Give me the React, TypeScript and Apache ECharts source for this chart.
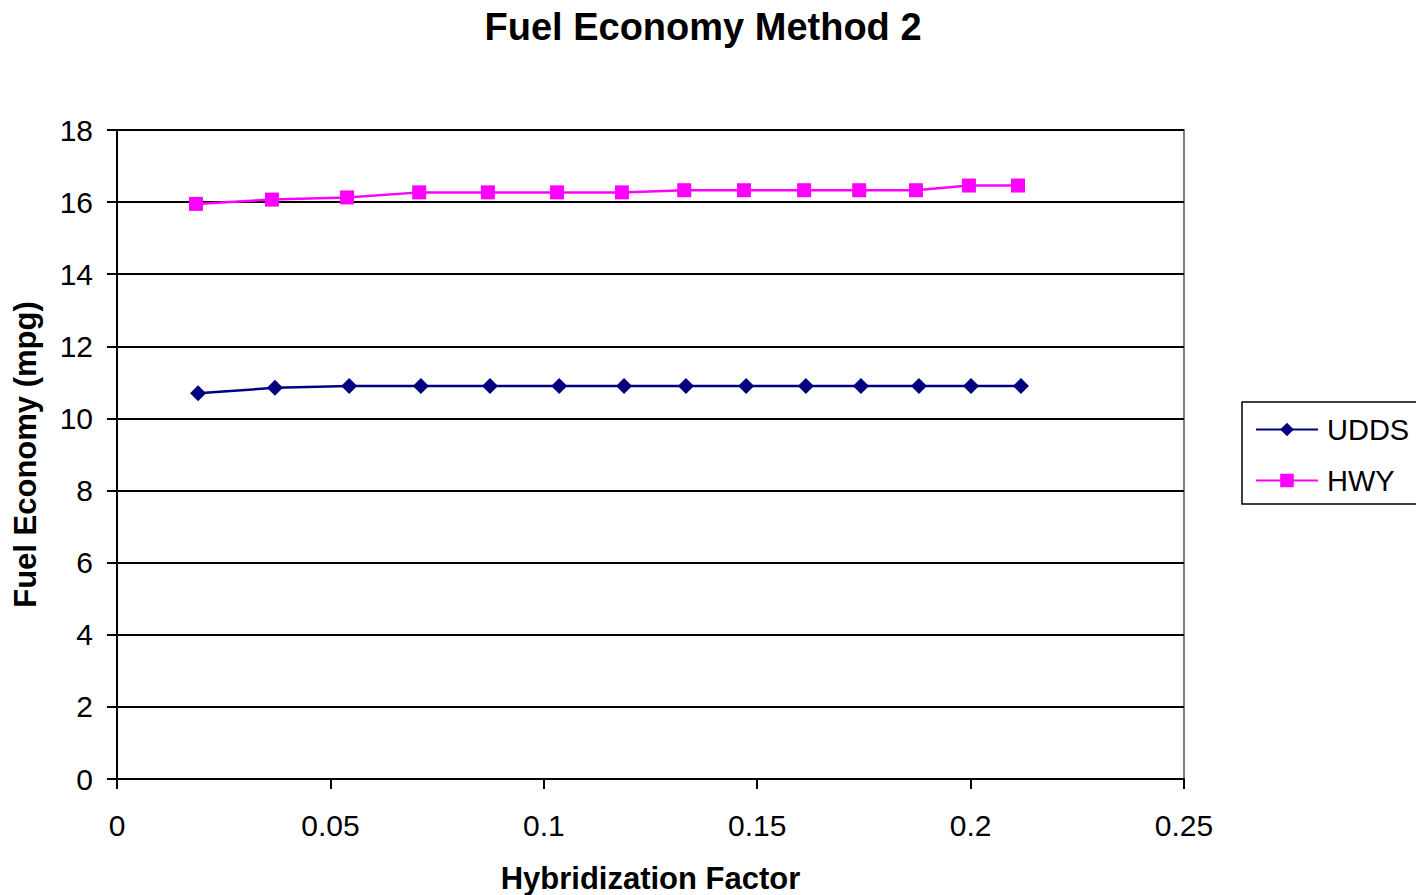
import React, { useEffect, useRef } from "react";
import * as echarts from "echarts";

// Hybridization factor (x) and fuel economy in mpg (y) for each drive cycle
const uddsFactor = [0.019, 0.037, 0.0544, 0.0712, 0.0874, 0.1036, 0.1188, 0.1333, 0.1474, 0.1614, 0.1743, 0.1879, 0.2001, 0.2118];
const uddsMpg = [10.7, 10.85, 10.9, 10.9, 10.9, 10.9, 10.9, 10.9, 10.9, 10.9, 10.9, 10.9, 10.9, 10.9];

const hwyFactor = [0.0185, 0.0363, 0.0539, 0.0708, 0.0869, 0.1031, 0.1183, 0.1329, 0.1469, 0.161, 0.1739, 0.1872, 0.1996, 0.2111];
const hwyMpg = [15.95, 16.07, 16.13, 16.27, 16.27, 16.27, 16.27, 16.33, 16.33, 16.33, 16.33, 16.33, 16.46, 16.46];

const xTicks = { min: 0, max: 0.25, interval: 0.05 };
const yTicks = { min: 0, max: 18, interval: 2 };

const FONT = "Liberation Sans, Arial, sans-serif";

export default function App() {
  const ref = useRef<HTMLDivElement>(null);

  useEffect(() => {
    if (!ref.current) return;
    const chart = echarts.init(ref.current, null, { renderer: "svg" });
    const pair = (xs: number[], ys: number[]) => xs.map((x, i) => [x, ys[i]]);

    chart.setOption({
      animation: false,
      backgroundColor: "#ffffff",
      textStyle: { fontFamily: FONT, color: "#000" },
      title: {
        text: "Fuel Economy Method 2",
        left: 698,
        textAlign: "center",
        top: 3,
        textStyle: { fontFamily: FONT, fontSize: 38, fontWeight: "bold", color: "#000" },
      },
      grid: {
        left: 117,
        top: 130,
        width: 1067,
        height: 649,
        outerBoundsMode: "none",
        containLabel: false,
        show: true,
        borderColor: "#808080",
        borderWidth: 2,
        backgroundColor: "transparent",
      },
      legend: {
        orient: "vertical",
        left: 1242,
        top: 402,
        padding: [13, 30, 9, 13],
        itemGap: 22,
        itemWidth: 62,
        itemHeight: 17,
        borderColor: "#000",
        borderWidth: 1.5,
        backgroundColor: "#fff",
        textStyle: { fontFamily: FONT, fontSize: 29, color: "#000", padding: [0, 0, 0, 4] },
        data: ["UDDS", "HWY"],
      },
      xAxis: {
        type: "value",
        min: xTicks.min,
        max: xTicks.max,
        interval: xTicks.interval,
        name: "Hybridization Factor",
        nameLocation: "middle",
        nameGap: 84,
        nameTextStyle: { fontFamily: FONT, fontSize: 31, fontWeight: "bold", color: "#000" },
        axisLine: { lineStyle: { color: "#000", width: 2 } },
        axisTick: { show: true, inside: false, length: 10, lineStyle: { color: "#000", width: 2 } },
        axisLabel: { fontFamily: FONT, fontSize: 30, color: "#000", margin: 31 },
        splitLine: { show: false },
      },
      yAxis: {
        type: "value",
        min: yTicks.min,
        max: yTicks.max,
        interval: yTicks.interval,
        name: "Fuel Economy (mpg)",
        nameLocation: "middle",
        nameGap: 76,
        nameRotate: 90,
        nameTextStyle: { fontFamily: FONT, fontSize: 31, fontWeight: "bold", color: "#000" },
        axisLine: { show: true, lineStyle: { color: "#000", width: 2 } },
        axisTick: { show: true, inside: false, length: 10, lineStyle: { color: "#000", width: 2 } },
        axisLabel: { fontFamily: FONT, fontSize: 30, color: "#000", margin: 24 },
        splitLine: { show: true, lineStyle: { color: "#000", width: 2 } },
      },
      series: [
        {
          name: "UDDS",
          type: "line",
          data: pair(uddsFactor, uddsMpg),
          symbol: "diamond",
          symbolSize: 16,
          itemStyle: { color: "#000080" },
          lineStyle: { color: "#000080", width: 2.5 },
          z: 3,
        },
        {
          name: "HWY",
          type: "line",
          data: pair(hwyFactor, hwyMpg),
          symbol: "rect",
          symbolSize: 14,
          itemStyle: { color: "#ff00ff" },
          lineStyle: { color: "#ff00ff", width: 2.5 },
          z: 3,
        },
      ],
    });

    return () => chart.dispose();
  }, []);

  return (
    <div
      ref={ref}
      style={{ position: "fixed", left: 0, top: 0, width: 1416, height: 895, background: "#fff" }}
    />
  );
}
